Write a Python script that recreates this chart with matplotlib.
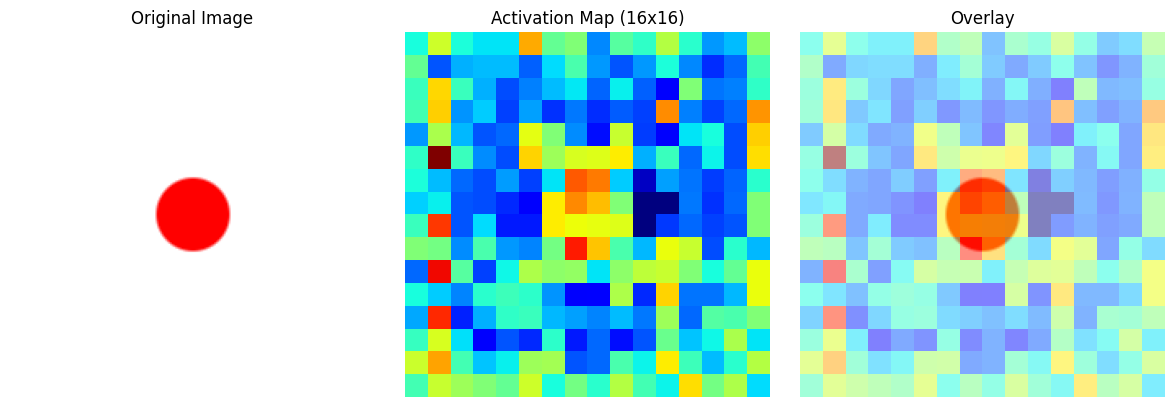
import numpy as np
import matplotlib
matplotlib.use("Agg")
import matplotlib.pyplot as plt

titles = ["Original Image", "Activation Map (16x16)", "Overlay"]

image_size = 224
circle_center = (111.5, 111.5)
circle_radius = 22.5

activation_rows = [
    [.38, .60, .385, .35, .35, .73, .47, .505, .26, .455, .41, .57, .40, .275, .31, .52],
    [.47, .21, .30, .31, .31, .22, .34, .44, .275, .21, .275, .385, .26, .17, .23, .43],
    [.42, .68, .42, .30, .20, .25, .31, .355, .225, .36, .22, .11, .505, .24, .25, .41],
    [.43, .69, .27, .325, .19, .285, .175, .245, .17, .215, .19, .76, .25, .19, .23, .75],
    [.275, .555, .305, .21, .23, .625, .505, .265, .14, .59, .185, .11, .35, .38, .20, .69],
    [.41, 1.0, .42, .265, .20, .685, .54, .61, .62, .66, .30, .42, .23, .365, .20, .675],
    [.385, .31, .23, .20, .28, .19, .35, .815, .78, .325, .06, .285, .24, .185, .225, .40],
    [.33, .36, .21, .20, .165, .11, .66, .765, .71, .505, .0, .0, .245, .175, .23, .505],
    [.42, .85, .21, .34, .15, .15, .66, .64, .63, .62, .0, .18, .23, .19, .21, .505],
    [.505, .49, .265, .44, .275, .255, .49, .88, .70, .44, .305, .635, .59, .20, .40, .305],
    [.23, .90, .455, .19, .37, .56, .52, .53, .35, .52, .58, .59, .505, .38, .47, .635],
    [.38, .325, .255, .40, .425, .405, .27, .11, .12, .56, .165, .685, .24, .24, .305, .635],
    [.29, .865, .16, .30, .41, .42, .305, .285, .255, .31, .245, .54, .23, .45, .44, .505],
    [.415, .61, .345, .11, .21, .165, .405, .15, .23, .14, .21, .48, .32, .37, .555, .35],
    [.595, .735, .43, .32, .36, .54, .55, .21, .23, .44, .365, .66, .425, .31, .40, .57],
    [.43, .59, .54, .505, .47, .60, .38, .49, .40, .57, .43, .365, .675, .49, .56, .34],
]
activation = np.array(activation_rows)

# The source picture: a red disc on white, with a soft edge
yy, xx = np.mgrid[0:image_size, 0:image_size]
inside = np.clip((circle_radius + 1 - np.hypot(xx - circle_center[0], yy - circle_center[1])) / 2, 0, 1)
picture = np.ones((image_size, image_size, 3))
picture[..., 1] = 1 - inside
picture[..., 2] = 1 - inside

W, H = 1174, 407
fig = plt.figure(figsize=(W / 100, H / 100), dpi=100)
lefts = [10, 405, 800]
side = 365
top = 32
axes = [fig.add_axes([l / W, 1 - (top + side) / H, side / W, side / H]) for l in lefts]

full = (-0.5, image_size - 0.5, image_size - 0.5, -0.5)
axes[0].imshow(picture)
axes[1].imshow(activation, cmap="jet", vmin=0, vmax=1, interpolation="nearest")
axes[2].imshow(picture)
axes[2].imshow(activation, cmap="jet", vmin=0, vmax=1, alpha=0.5, interpolation="nearest", extent=full)

for ax, title in zip(axes, titles):
    ax.set_title(title, fontsize=12)
    ax.axis("off")

fig.savefig("out.png", dpi=100)
